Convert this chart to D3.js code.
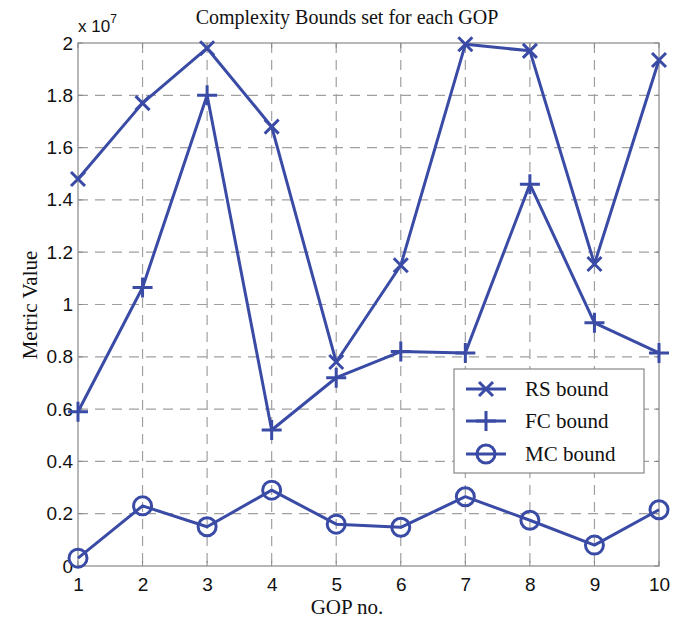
<!DOCTYPE html>
<html><head><meta charset="utf-8">
<script src="https://cdn.jsdelivr.net/npm/d3@7"></script>
<style>body{margin:0;background:#fff}</style>
</head><body>
<svg id="c" width="694" height="625"></svg>
<script>
const gops = [1,2,3,4,5,6,7,8,9,10];
const rsBound = [1.48,1.77,1.98,1.68,0.78,1.15,1.995,1.97,1.155,1.935];
const fcBound = [0.59,1.065,1.80,0.52,0.72,0.82,0.815,1.46,0.93,0.815];
const mcBound = [0.03,0.23,0.15,0.29,0.16,0.148,0.265,0.175,0.08,0.215];
const yTicks = [0,0.2,0.4,0.6,0.8,1,1.2,1.4,1.6,1.8,2];
const yTickLabels = ["0","0.2","0.4","0.6","0.8","1","1.2","1.4","1.6","1.8","2"];
const seriesNames = ["RS bound","FC bound","MC bound"];
const markers = ["x","plus","circle"];

const color = "#3a4ba6";
const svg = d3.select("#c");
const m = {l:78, r:659, t:43, b:566};
const x = d3.scaleLinear().domain([1,10]).range([m.l,m.r]);
const y = d3.scaleLinear().domain([0,2]).range([m.b,m.t]);

// grid
const g = svg.append("g");
g.selectAll(".vg").data(gops.slice(1,-1)).enter().append("line")
  .attr("x1",d=>x(d)).attr("x2",d=>x(d)).attr("y1",m.t).attr("y2",m.b)
  .attr("stroke","#a0a0a0").attr("stroke-width",1.2).attr("stroke-dasharray","10,7");
g.selectAll(".hg").data(yTicks.slice(1,-1)).enter().append("line")
  .attr("x1",m.l).attr("x2",m.r).attr("y1",d=>y(d)).attr("y2",d=>y(d))
  .attr("stroke","#a0a0a0").attr("stroke-width",1.2).attr("stroke-dasharray","10,7");
// box
svg.append("rect").attr("x",m.l).attr("y",m.t).attr("width",m.r-m.l).attr("height",m.b-m.t)
  .attr("fill","none").attr("stroke","#888").attr("stroke-width",1.2);

// axes
const xa = svg.append("g").attr("transform",`translate(0,${m.b})`)
  .call(d3.axisBottom(x).tickValues(gops).tickSize(0).tickPadding(12).tickFormat(d3.format("d")));
xa.select(".domain").remove();
xa.selectAll("text").attr("font-family","Liberation Sans, Arial").attr("font-size",19).attr("fill","#111");
const ya = svg.append("g").attr("transform",`translate(${m.l},0)`)
  .call(d3.axisLeft(y).tickValues(yTicks).tickSize(0).tickPadding(5).tickFormat((d,i)=>yTickLabels[i]));
ya.select(".domain").remove();
ya.selectAll("text").attr("font-family","Liberation Sans, Arial").attr("font-size",19).attr("fill","#111");

// tick marks inside (small)
svg.append("g").selectAll("line").data(gops).enter().append("line")
  .attr("x1",d=>x(d)).attr("x2",d=>x(d)).attr("y1",m.t).attr("y2",m.t+5).attr("stroke","#888");
svg.append("g").selectAll("line").data(gops).enter().append("line")
  .attr("x1",d=>x(d)).attr("x2",d=>x(d)).attr("y1",m.b).attr("y2",m.b-5).attr("stroke","#888");
svg.append("g").selectAll("line").data(yTicks).enter().append("line")
  .attr("x1",m.l).attr("x2",m.l+5).attr("y1",d=>y(d)).attr("y2",d=>y(d)).attr("stroke","#888");
svg.append("g").selectAll("line").data(yTicks).enter().append("line")
  .attr("x1",m.r).attr("x2",m.r-5).attr("y1",d=>y(d)).attr("y2",d=>y(d)).attr("stroke","#888");

function drawMarker(sel, type, cx, cy){
  if(type==="x"){
    const s=7;
    sel.append("path").attr("d",`M${cx-s},${cy-s}L${cx+s},${cy+s}M${cx-s},${cy+s}L${cx+s},${cy-s}`)
      .attr("stroke",color).attr("stroke-width",3).attr("fill","none");
  } else if(type==="plus"){
    const s=10;
    sel.append("path").attr("d",`M${cx-s},${cy}L${cx+s},${cy}M${cx},${cy-s}L${cx},${cy+s}`)
      .attr("stroke",color).attr("stroke-width",3).attr("fill","none");
  } else {
    sel.append("circle").attr("cx",cx).attr("cy",cy).attr("r",9)
      .attr("stroke",color).attr("stroke-width",3).attr("fill","none");
  }
}

const allSeries = [rsBound, fcBound, mcBound];
const line = d3.line().x((d,i)=>x(gops[i])).y(d=>y(d));
allSeries.forEach((vals,si)=>{
  svg.append("path").attr("d",line(vals)).attr("fill","none")
    .attr("stroke",color).attr("stroke-width",3).attr("stroke-linejoin","round");
  const mg = svg.append("g");
  vals.forEach((v,i)=>drawMarker(mg, markers[si], x(gops[i]), y(v)));
});

// legend
const lg = svg.append("g");
lg.append("rect").attr("x",454).attr("y",369).attr("width",190).attr("height",104)
  .attr("fill","#fff").attr("stroke","#888").attr("stroke-width",1.2);
const ly = [389,421,454];
seriesNames.forEach((n,i)=>{
  lg.append("line").attr("x1",466).attr("x2",506).attr("y1",ly[i]).attr("y2",ly[i])
    .attr("stroke",color).attr("stroke-width",3);
  drawMarker(lg, markers[i], 486, ly[i]);
  lg.append("text").attr("x",525).attr("y",ly[i]+7).text(n)
    .attr("font-family","Liberation Serif, Times New Roman").attr("font-size",21).attr("fill","#111");
});

// texts
svg.append("text").attr("x",347).attr("y",24).attr("text-anchor","middle")
  .attr("font-family","Liberation Serif, Times New Roman").attr("font-size",20).attr("fill","#111")
  .text("Complexity Bounds set for each GOP");
const ex = svg.append("text").attr("x",78).attr("y",32)
  .attr("font-family","Liberation Sans, Arial").attr("font-size",17).attr("fill","#111");
ex.append("tspan").text("x 10");
ex.append("tspan").attr("dy",-9).attr("font-size",12).text("7");
svg.append("text").attr("x",347).attr("y",614).attr("text-anchor","middle")
  .attr("font-family","Liberation Serif, Times New Roman").attr("font-size",21).attr("fill","#111")
  .text("GOP no.");
svg.append("text").attr("transform","translate(37,305) rotate(-90)").attr("text-anchor","middle")
  .attr("font-family","Liberation Serif, Times New Roman").attr("font-size",21).attr("fill","#111")
  .text("Metric Value");
</script>
</body></html>
